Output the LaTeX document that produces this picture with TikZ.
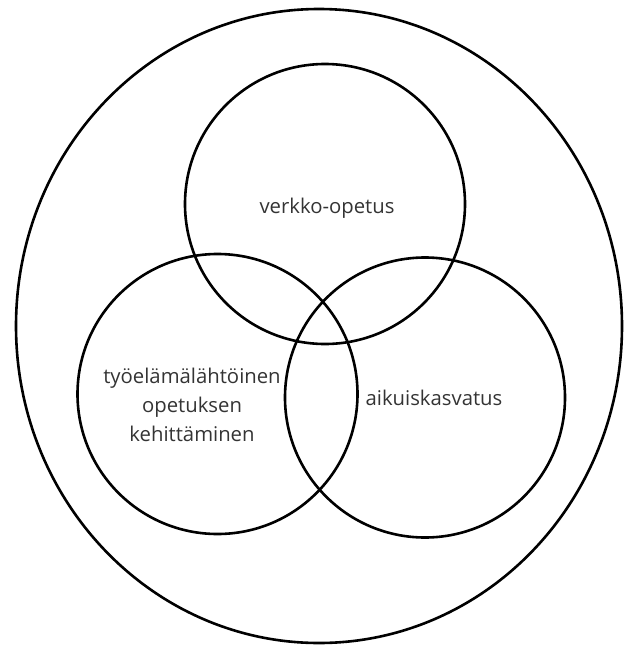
\documentclass[tikz,border=0pt]{standalone}
\usepackage{fontspec}
\setmainfont{Open Sans}
\usepackage{tikz}
\usetikzlibrary{shapes.geometric}
\definecolor{inkgray}{RGB}{52,52,52}

\begin{document}
\begin{tikzpicture}[x=1pt, y=-1pt,
  ring/.style={draw=black, circle, line width=2.6pt, minimum size=280pt, inner sep=0pt},
  outer/.style={draw=black, ellipse, line width=2.6pt, minimum width=606pt, minimum height=634pt, inner sep=0pt},
  lbl/.style={font=\fontsize{20.3}{29}\selectfont, text=inkgray, align=center, inner sep=0pt}]
\useasboundingbox (0,0) rectangle (624,648);
% outer frame
\node[outer] (all) at (319,326) {};
% three circles
\node[ring] (web) at (325,204) {};
\node[ring] (work) at (217.5,394) {};
\node[ring] (adult) at (425,397.5) {};
% labels
\node[lbl] (weblbl) at (327,208) {verkko-opetus};
\node[lbl] (worklbl) at (192,405) {työelämälähtöinen\\opetuksen\\kehittäminen};
\node[lbl] (adultlbl) at (434,398) {aikuiskasvatus};
\end{tikzpicture}
\end{document}
